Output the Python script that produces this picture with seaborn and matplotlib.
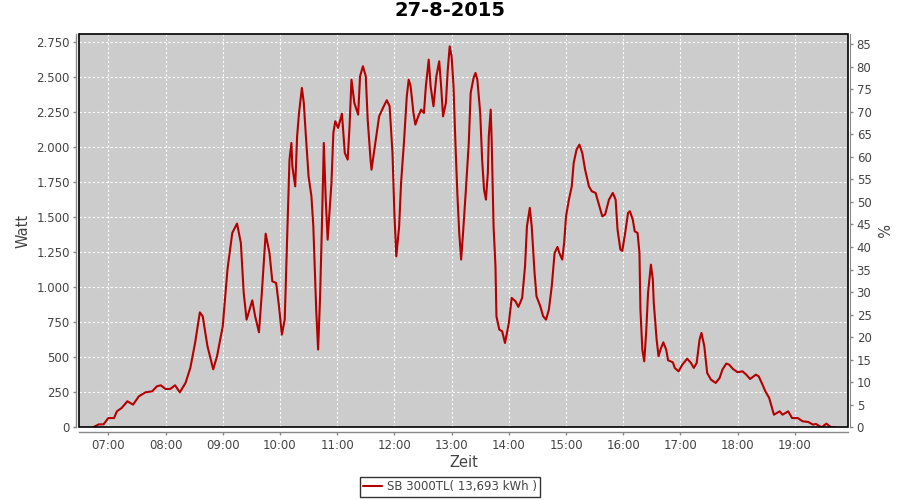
import pandas as pd
import numpy as np
import matplotlib
matplotlib.use("Agg")
import matplotlib.pyplot as plt
import seaborn as sns
from matplotlib.patches import Rectangle
from matplotlib.ticker import FuncFormatter

# Chart data
title = "27-8-2015"
legend_label = "SB 3000TL( 13,693 kWh )"

times = [
    "06:44", "06:50", "06:55", "07:00", "07:06", "07:09", "07:14", "07:20", "07:26", "07:32",
    "07:39", "07:46", "07:51", "07:55", "08:00", "08:05", "08:10", "08:15", "08:21", "08:26",
    "08:31", "08:36", "08:39", "08:44", "08:50", "08:54", "09:00", "09:05", "09:10", "09:15",
    "09:19", "09:22", "09:25", "09:31", "09:34", "09:38", "09:41", "09:45", "09:49", "09:52",
    "09:56", "09:59", "10:02", "10:05", "10:07", "10:10", "10:12", "10:13", "10:16", "10:18",
    "10:20", "10:23", "10:25", "10:27", "10:30", "10:33", "10:35", "10:38", "10:40", "10:42",
    "10:44", "10:46", "10:48", "10:50", "10:54", "10:56", "10:58", "11:01", "11:05", "11:08",
    "11:11", "11:13", "11:15", "11:18", "11:22", "11:24", "11:27", "11:30", "11:32", "11:35",
    "11:36", "11:39", "11:41", "11:44", "11:48", "11:52", "11:55", "11:58", "12:00", "12:02",
    "12:05", "12:07", "12:10", "12:13", "12:15", "12:17", "12:20", "12:22", "12:25", "12:28",
    "12:31", "12:33", "12:36", "12:38", "12:41", "12:44", "12:47", "12:49", "12:51", "12:54",
    "12:56", "12:58", "13:00", "13:02", "13:04", "13:06", "13:08", "13:10", "13:12", "13:15",
    "13:18", "13:20", "13:23", "13:25", "13:27", "13:30", "13:32", "13:34", "13:36", "13:38",
    "13:39", "13:41", "13:42", "13:44", "13:46", "13:47", "13:50", "13:53", "13:56", "14:00",
    "14:03", "14:07", "14:10", "14:14", "14:17", "14:19", "14:22", "14:24", "14:27", "14:29",
    "14:33", "14:36", "14:39", "14:42", "14:45", "14:48", "14:51", "14:53", "14:56", "14:58",
    "15:00", "15:03", "15:06", "15:08", "15:11", "15:14", "15:17", "15:20", "15:24", "15:27",
    "15:31", "15:34", "15:38", "15:41", "15:45", "15:49", "15:52", "15:54", "15:57", "15:59",
    "16:02", "16:05", "16:07", "16:10", "16:12", "16:15", "16:17", "16:18", "16:20", "16:22",
    "16:24", "16:26", "16:29", "16:31", "16:32", "16:35", "16:37", "16:39", "16:42", "16:45",
    "16:47", "16:52", "16:54", "16:58", "17:02", "17:07", "17:11", "17:14", "17:17", "17:20",
    "17:22", "17:25", "17:28", "17:32", "17:37", "17:41", "17:44", "17:48", "17:51", "17:55",
    "18:00", "18:05", "18:09", "18:13", "18:19", "18:22", "18:26", "18:29", "18:33", "18:38",
    "18:44", "18:47", "18:53", "18:57", "19:03", "19:08", "19:14", "19:19", "19:22", "19:28",
    "19:33", "19:38", "19:43",
]
watt = [
    0, 21, 21, 66, 66, 114, 138, 186, 162, 221,
    250, 257, 293, 300, 274, 274, 300, 250, 317, 424,
    602, 821, 793, 579, 414, 507, 721, 1129, 1388, 1455,
    1317, 960, 769, 907, 793, 679, 960, 1383, 1245, 1043,
    1031, 864, 662, 769, 1221, 1912, 2031, 1864, 1721, 2079,
    2245, 2424, 2317, 2102, 1793, 1650, 1436, 843, 555, 912,
    1436, 2031, 1629, 1340, 1745, 2102, 2186, 2138, 2240, 1960,
    1912, 2150, 2483, 2317, 2233, 2507, 2579, 2507, 2198, 1912,
    1840, 1983, 2079, 2221, 2281, 2336, 2293, 1960, 1531, 1221,
    1436, 1745, 2031, 2364, 2483, 2436, 2245, 2162, 2221, 2269,
    2245, 2436, 2626, 2436, 2293, 2507, 2614, 2436, 2221, 2317,
    2555, 2721, 2650, 2436, 2031, 1674, 1388, 1198, 1388, 1698,
    2031, 2388, 2495, 2531, 2483, 2245, 1912, 1698, 1626, 1817,
    2079, 2269, 2055, 1436, 1150, 793, 698, 686, 602, 745,
    924, 900, 860, 924, 1150, 1436, 1567, 1436, 1102, 936,
    864, 793, 769, 840, 1007, 1245, 1288, 1245, 1198, 1317,
    1507, 1626, 1721, 1888, 1983, 2019, 1960, 1840, 1721, 1686,
    1674, 1602, 1507, 1520, 1626, 1674, 1626, 1412, 1269, 1260,
    1388, 1531, 1543, 1483, 1400, 1388, 1245, 840, 555, 471,
    674, 960, 1162, 1055, 888, 626, 507, 555, 607, 555,
    479, 464, 424, 400, 448, 490, 460, 424, 460, 626,
    674, 579, 388, 340, 317, 352, 412, 455, 448, 417,
    393, 400, 376, 345, 376, 364, 305, 257, 210, 90,
    114, 90, 114, 66, 66, 43, 38, 19, 24, 0,
    26, 0, 0,
]

watt_ticks = list(range(0, 2751, 250))
pct_ticks = list(range(0, 86, 5))
hour_ticks = list(range(7, 20))
hour_labels = [f"{h:02d}:00" for h in hour_ticks]


def to_hours(s):
    h, m = s.split(":")
    return int(h) + int(m) / 60.0


def de_thousands(v, pos):
    return f"{v:,.0f}".replace(",", ".")


def main():
    df = pd.DataFrame({"hour": [to_hours(t) for t in times], "watt": watt})

    sns.set_style("white")
    plt.rcParams["font.family"] = ["DejaVu Sans"]
    grey = "#444444"

    fig = plt.figure(figsize=(9, 5), dpi=100)
    ax = fig.add_axes([79 / 900, 1 - 427.3 / 500, (848.3 - 79) / 900, (427.3 - 34.3) / 500])
    ax.set_facecolor("#cccccc")

    sns.lineplot(data=df, x="hour", y="watt", ax=ax, color="#b40000",
                 linewidth=1.5, estimator=None, label=legend_label)

    ax.set_xlim(6.488, 19.933)
    ax.set_ylim(0, 2807)
    ax.set_xticks(hour_ticks)
    ax.set_xticklabels(hour_labels)
    ax.set_yticks(watt_ticks)
    ax.yaxis.set_major_formatter(FuncFormatter(de_thousands))
    ax.grid(True, color="white", linestyle=(0, (2, 2)), linewidth=0.8)

    for side in ["top", "right"]:
        ax.spines[side].set_visible(False)
    for side in ["left", "bottom"]:
        ax.spines[side].set_color("#888888")
        ax.spines[side].set_linewidth(1.0)
    ax.spines["left"].set_position(("outward", 2.2))
    ax.spines["bottom"].set_position(("outward", 3.2))
    ax.tick_params(axis="both", colors="#888888", labelcolor=grey, length=2.5,
                   width=1, direction="out", labelsize=8.5)
    ax.tick_params(axis="y", left=True, pad=2)
    ax.tick_params(axis="x", bottom=True, pad=3)

    # plot frame
    ax.add_patch(Rectangle((0, 0), 1, 1, transform=ax.transAxes, fill=False,
                           edgecolor="black", linewidth=1.2, clip_on=False, zorder=5))

    ax.set_xlabel("Zeit", fontsize=10.5, color=grey, labelpad=2)
    ax.set_ylabel("Watt", fontsize=10.5, color=grey, labelpad=4)

    ax2 = ax.twinx()
    ax2.set_ylim(0, 87.2)
    ax2.set_yticks(pct_ticks)
    for side in ["top", "left", "bottom"]:
        ax2.spines[side].set_visible(False)
    ax2.spines["right"].set_color("#888888")
    ax2.spines["right"].set_position(("outward", 1.5))
    ax2.tick_params(axis="y", right=True, colors="#888888", labelcolor=grey,
                    length=2.5, width=1, direction="out", labelsize=8.5, pad=2)
    ax2.set_ylabel("%", fontsize=10.5, color=grey, rotation=270, labelpad=12)

    fig.suptitle(title, fontsize=14, fontweight="bold", color="black", y=0.997, va="top")

    leg = ax.legend(loc="upper center", bbox_to_anchor=(0.5, 0.047),
                    bbox_transform=fig.transFigure, frameon=True,
                    fancybox=False, edgecolor="black", fontsize=8.5, handlelength=1.6,
                    handletextpad=0.4, borderpad=0.3, borderaxespad=0)
    leg.get_frame().set_linewidth(1.0)
    for t in leg.get_texts():
        t.set_color(grey)

    fig.savefig("out.png", dpi=100)


if __name__ == "__main__":
    main()
